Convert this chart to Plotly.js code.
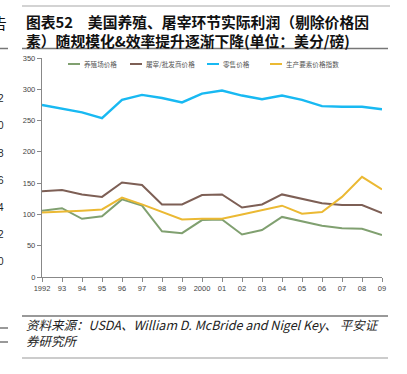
<!DOCTYPE html>
<html>
<head>
<meta charset="utf-8">
<script src="https://cdn.plot.ly/plotly-3.0.1.min.js"></script>
<style>html,body{margin:0;padding:0;background:#fff;}#chart{width:407px;height:374px;}</style>
</head>
<body>
<div id="chart"></div>
<script>
// ---- data ----
const years = [1992,1993,1994,1995,1996,1997,1998,1999,2000,2001,2002,2003,2004,2005,2006,2007,2008,2009];
const yearLabels = ["1992","93","94","95","96","97","98","99","2000","01","02","03","04","05","06","07","08","09"];
const farmPrice = [106,110,93,97,124,114,73,70,91,92,68,75,96,89,82,78,77,67];
const wholesalePrice = [137,139,132,128,151,147,116,116,131,132,111,116,132,125,118,115,115,102];
const retailPrice = [275,269,263,254,283,291,286,279,293,298,290,284,290,283,273,272,272,268];
const inputIndex = [103,104,106,108,127,116,104,92,93,93,100,107,114,101,104,128,160,140];
const seriesNames = ["养殖场价格","屠宰/批发商价格","零售价格","生产要素价格指数"];
const seriesColors = ['#80a070', '#7d5f55', '#18b9f2', '#ebb933'];

// ---- layout helpers (pixel -> paper) ----
const L = 42, T = 58, W = 340, H = 219;
const px = x => (x - L) / W;
const py = y => (T + H - y) / H;

const cjk = '"Noto Sans CJK SC", "Liberation Sans", sans-serif';
const latin = '"Liberation Sans", Arial, sans-serif';

const mk = (i, y, w) => ({
  x: years, y: y, name: seriesNames[i], type: 'scatter', mode: 'lines',
  line: {color: seriesColors[i], width: w}, showlegend: false
});

const data = [
  mk(0, farmPrice, 2),
  mk(1, wholesalePrice, 2),
  mk(2, retailPrice, 2.4),
  mk(3, inputIndex, 2)
];

const hline = (x0, x1, y, color, w) => ({
  type: 'line', xref: 'paper', yref: 'paper',
  x0: px(x0), x1: px(x1), y0: py(y), y1: py(y),
  line: {color: color, width: w}
});

const ann = (text, x, y, size, opts) => Object.assign({
  text: text, xref: 'paper', yref: 'paper', x: px(x), y: py(y),
  xanchor: 'left', yanchor: 'middle', showarrow: false, align: 'left',
  font: {family: cjk, size: size, color: '#111'}
}, opts || {});

const edgeDigits = [["2",98],["0",125],["8",153],["6",180],["4",207],["2",234],["0",261]];

const annotations = [
  ann('<b>图表52　美国养殖、屠宰环节实际利润（剔除价格因<br>素）随规模化&效率提升逐渐下降(单位：美分/磅)</b>', 24, 31, 14.8),
  ann('<i>资料来源：USDA、William D. McBride and Nigel Key、 平安证<br>券研究所</i>', 24, 332, 12.5, {font:{family: cjk, size:12.5, color:'#222'}}),
  ann('告', 9, 22, 14.8, {xanchor:'right'})
];
edgeDigits.forEach(d => annotations.push(ann(d[0], 6, d[1], 10, {xanchor:'right', font:{family: latin, size:10, color:'#222'}})));

const shapes = [
  hline(22, 390, 6, '#a8a8a8', 1.2),
  hline(22, 388, 48.5, '#777', 1.5),
  hline(22, 388, 316, '#777', 1.5),
  hline(22, 388, 358, '#999', 1.2),
  hline(0, 8, 48.5, '#777', 1.5),
  hline(0, 8, 328, '#777', 1.5),
  hline(0, 8, 342, '#777', 1.5)
];

// custom legend (compact line samples like the reference)
const legendX = [68, 130, 207, 270];
const legendY = 64;
seriesNames.forEach((n, i) => {
  shapes.push({type: 'line', xref: 'paper', yref: 'paper',
    x0: px(legendX[i]), x1: px(legendX[i] + 12), y0: py(legendY), y1: py(legendY),
    line: {color: seriesColors[i], width: 2}});
  annotations.push(ann(n, legendX[i] + 14, legendY, 6.6, {font: {family: cjk, size: 6.6, color: '#555'}}));
});

const layout = {
  width: 407, height: 374,
  margin: {l: L, r: 407 - L - W, t: T, b: 374 - T - H, pad: 0},
  paper_bgcolor: '#fff', plot_bgcolor: '#fff',
  showlegend: false,
  xaxis: {
    range: [1992, 2009], tickvals: years, ticktext: yearLabels,
    showgrid: false, zeroline: false, showline: true, linecolor: '#888', linewidth: 1.2,
    ticks: 'outside', ticklen: 4, tickcolor: '#888',
    tickfont: {family: latin, size: 7.5, color: '#444'}
  },
  yaxis: {
    range: [0, 350], dtick: 50, tick0: 0,
    showgrid: false, zeroline: false, showline: true, linecolor: '#888', linewidth: 1.2,
    ticks: 'outside', ticklen: 4, tickcolor: '#888',
    tickfont: {family: latin, size: 7.5, color: '#444'}
  },
  annotations: annotations,
  shapes: shapes
};

Plotly.newPlot('chart', data, layout, {displayModeBar: false, staticPlot: true});
</script>
</body>
</html>
